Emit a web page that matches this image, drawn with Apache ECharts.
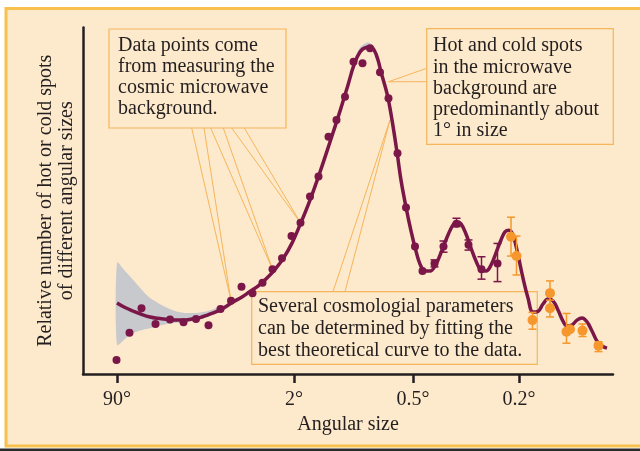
<!DOCTYPE html>
<html>
<head>
<meta charset="utf-8">
<script src="https://cdn.jsdelivr.net/npm/echarts@6/dist/echarts.min.js"></script>
<style>
  html, body { margin: 0; padding: 0; background: #ffffff; }
  #chart { width: 640px; height: 451px; }
</style>
</head>
<body>
<div id="chart"></div>
<script>
// Horizontal axis: position units, with labelled angular sizes at these positions
const tickPositions = [6.8, 42.2, 66.0, 87.2];
const tickLabels = ['90°', '2°', '0.5°', '0.2°'];

// Best theoretical curve
const curveX = [6.8, 8.4, 10.0, 11.8, 13.4, 15.0, 16.8, 18.4, 20.0, 21.8, 23.4, 25.0, 26.8, 28.4, 30.0,
  31.8, 33.4, 35.0, 36.8, 38.4, 40.0, 41.8, 43.4, 45.4, 47.4, 49.4, 51.4, 53.0, 54.2, 55.4, 56.6, 57.4,
  58.2, 59.0, 59.6, 60.4, 61.0, 61.8, 62.8, 63.6, 64.6, 65.6, 66.6, 67.4, 68.4, 69.4, 70.6, 71.8, 73.0,
  74.0, 74.8, 75.6, 76.6, 77.6, 78.6, 79.6, 80.6, 81.6, 82.6, 83.6, 84.4, 85.2, 86.0, 87.0, 88.0, 89.0,
  90.0, 91.0, 92.0, 93.0, 94.0, 95.0, 96.0, 96.8, 97.8, 98.8, 99.8, 100.8, 101.8, 102.8, 103.8, 104.8];
const curveY = [20.3, 19.0, 18.0, 17.0, 16.3, 15.9, 15.6, 15.4, 15.4, 15.7, 16.1, 16.9, 17.9, 19.1, 20.6,
  22.0, 23.6, 25.1, 27.4, 29.9, 32.9, 37.4, 42.6, 49.7, 57.7, 66.3, 75.1, 82.6, 88.3, 92.0, 93.3, 93.4,
  92.6, 89.7, 86.3, 82.3, 78.9, 72.6, 63.4, 55.4, 47.7, 40.9, 35.1, 31.4, 29.4, 29.4, 31.4, 35.4, 39.7,
  42.6, 43.4, 42.9, 40.0, 36.0, 32.3, 29.7, 29.4, 31.1, 34.6, 38.3, 40.6, 41.1, 39.7, 34.0, 27.4, 21.7,
  17.7, 17.9, 20.0, 21.4, 20.9, 18.3, 15.1, 13.7, 14.0, 15.4, 16.0, 14.9, 12.3, 9.4, 8.0, 7.4];

// Uncertainty band at large angular sizes
const bandX = [6.8, 8.4, 10.0, 11.8, 13.4, 15.0, 16.8, 18.4, 20.0, 21.8, 23.4, 25.0, 26.8, 28.4];
const bandLow = [8.3, 10.0, 11.7, 12.6, 13.1, 13.7, 14.3, 14.6, 14.7, 15.1, 15.6, 16.3, 17.4, 18.9];
const bandHigh = [31.8, 29.4, 26.9, 24.0, 21.7, 20.3, 18.9, 18.0, 17.5, 17.4, 17.6, 18.0, 18.9, 19.7];

// Narrow band around the main peak
const haloX = [53.0, 54.2, 55.4, 56.6, 57.4, 58.2, 59.0];
const haloLow = [82.6, 88.3, 92.0, 93.3, 93.4, 92.6, 89.7];
const haloHigh = [83.4, 89.7, 93.3, 94.6, 94.6, 93.6, 90.2];

// Measurements (maroon)
const pointX = [6.7, 9.3, 11.7, 14.5, 17.4, 20.1, 22.6, 25.1, 27.5, 29.6, 31.7, 33.9, 35.9, 37.9, 39.8,
  41.7, 43.5, 45.4, 47.1, 49.1, 50.7, 52.4, 54.1, 55.9, 57.4, 59.4, 61.1, 62.9, 64.6, 66.4, 67.9, 70.3,
  72.1, 74.7, 77.1, 79.7, 82.9];
const pointY = [4.0, 11.8, 18.8, 14.3, 15.6, 14.8, 15.7, 13.9, 18.6, 20.9, 24.9, 23.1, 26.1, 29.9, 33.1,
  39.4, 43.2, 50.7, 56.4, 67.8, 72.6, 79.2, 89.2, 88.8, 93.1, 86.2, 78.8, 63.1, 47.6, 36.4, 29.4, 31.6,
  36.4, 42.9, 36.9, 29.9, 31.6];
const barX = [70.3, 72.1, 74.7, 77.1, 79.7, 82.9];
const barLow = [30.6, 34.8, 42.1, 35.4, 27.1, 26.4];
const barHigh = [32.6, 38.0, 44.5, 38.3, 33.5, 37.3];

// Measurements at small angular sizes (orange)
const fineX = [85.6, 86.7, 89.9, 93.4, 93.4, 96.7, 97.4, 99.9, 103.1];
const fineY = [39.2, 33.7, 15.4, 23.1, 18.8, 12.1, 12.8, 12.4, 8.1];
const fineBarX = [85.6, 86.7, 89.9, 93.4, 93.4, 96.7, 99.9, 103.1];
const fineBarLow = [33.7, 28.3, 12.8, 19.4, 16.3, 8.8, 10.7, 6.4];
const fineBarHigh = [44.8, 39.4, 17.6, 26.6, 21.1, 17.3, 14.3, 9.2];

const MAROON = '#7b1748';
const ORANGE = '#f5972c';
const BAND = '#c7c9cd';
const INK = '#231f20';
const CALLOUT = '#f6b65c';
const SERIF = '"Liberation Serif", "DejaVu Serif", serif';

const zip = (xs, ys) => xs.map((x, i) => [x, ys[i]]);
const zip3 = (xs, a, b) => xs.map((x, i) => [x, a[i], b[i]]);

function errorBars(color) {
  return function (params, api) {
    const x = api.value(0);
    const lo = api.coord([x, api.value(1)]);
    const hi = api.coord([x, api.value(2)]);
    const w = 4;
    const style = { stroke: color, lineWidth: 1.5 };
    return {
      type: 'group',
      children: [
        { type: 'line', shape: { x1: lo[0], y1: lo[1], x2: hi[0], y2: hi[1] }, style },
        { type: 'line', shape: { x1: lo[0] - w, y1: lo[1], x2: lo[0] + w, y2: lo[1] }, style },
        { type: 'line', shape: { x1: hi[0] - w, y1: hi[1], x2: hi[0] + w, y2: hi[1] }, style }
      ]
    };
  };
}

// One filled region between the low and high edges of a band
function bandSeries(name, xs, lows, highs) {
  return {
    name: name, type: 'custom', silent: true, z: 1,
    encode: { x: 0, y: [1, 2] },
    data: zip3(xs, lows, highs),
    renderItem: function (params, api) {
      if (params.dataIndex !== 0) return null;
      const upper = xs.map((x, i) => api.coord([x, highs[i]]));
      const lower = xs.map((x, i) => api.coord([x, lows[i]])).reverse();
      return {
        type: 'polygon',
        shape: { points: upper.concat(lower), smooth: 0.25 },
        style: { fill: BAND }
      };
    }
  };
}

const chart = echarts.init(document.getElementById('chart'), null, { renderer: 'canvas' });

chart.setOption({
  backgroundColor: '#ffffff',
  animation: false,
  grid: { left: 83, right: 27, top: 27.5, bottom: 77 },
  xAxis: {
    type: 'value', min: 0, max: 106,
    name: 'Angular size', nameLocation: 'middle', nameGap: 39,
    nameTextStyle: { fontFamily: SERIF, fontSize: 20, color: INK },
    splitLine: { show: false },
    axisLine: { lineStyle: { color: INK, width: 2.5 } },
    axisTick: { show: true, customValues: tickPositions, length: 9, inside: false,
      lineStyle: { color: INK, width: 2.5 } },
    axisLabel: {
      customValues: tickPositions, margin: 16,
      fontFamily: SERIF, fontSize: 20, color: INK,
      formatter: (v) => tickLabels[tickPositions.indexOf(v)] || ''
    }
  },
  yAxis: {
    type: 'value', min: 0, max: 99,
    name: 'Relative number of hot or cold spots\nof different angular sizes',
    nameLocation: 'middle', nameRotate: 90, nameGap: 6,
    nameTextStyle: { fontFamily: SERIF, fontSize: 20, color: INK, lineHeight: 21 },
    splitLine: { show: false },
    axisLine: { show: true, lineStyle: { color: INK, width: 2.5 } },
    axisTick: { show: false },
    axisLabel: { show: false }
  },
  series: [
    bandSeries('band', bandX, bandLow, bandHigh),
    bandSeries('halo', haloX, haloLow, haloHigh),
    {
      name: 'theory', type: 'line', smooth: 0.4, symbol: 'none', silent: true,
      lineStyle: { color: MAROON, width: 3.5 }, data: zip(curveX, curveY), z: 3
    },
    {
      name: 'errors', type: 'custom', renderItem: errorBars(MAROON),
      encode: { x: 0, y: [1, 2] }, data: zip3(barX, barLow, barHigh), z: 4
    },
    {
      name: 'fineErrors', type: 'custom', renderItem: errorBars(ORANGE),
      encode: { x: 0, y: [1, 2] }, data: zip3(fineBarX, fineBarLow, fineBarHigh), z: 4
    },
    {
      name: 'measured', type: 'scatter', symbolSize: 8,
      itemStyle: { color: MAROON, opacity: 1 }, data: zip(pointX, pointY), z: 5
    },
    {
      name: 'fine', type: 'scatter', symbolSize: 10,
      itemStyle: { color: ORANGE, opacity: 1 }, data: zip(fineX, fineY), z: 5
    }
  ]
});

// Annotation boxes with callout wedges pointing at the data
const px = (x, y) => chart.convertToPixel({ gridIndex: 0 }, [x, y]);

function wedge(a, target, b) {
  return {
    type: 'polyline', silent: true, z: 2,
    shape: { points: [a, target, b] },
    style: { stroke: CALLOUT, lineWidth: 1, fill: null }
  };
}
function box(x, y, w, h, text, tx, ty, lh) {
  return [
    {
      type: 'rect', silent: true, z: 2,
      shape: { x: x, y: y, width: w, height: h },
      style: { fill: '#fde9cb', stroke: CALLOUT, lineWidth: 1.2 }
    },
    {
      type: 'text', silent: true, z: 3,
      style: { text: text, x: tx, y: ty, font: '20px ' + SERIF, fill: INK,
        lineHeight: lh, verticalAlign: 'top', align: 'left' }
    }
  ];
}

const tA = px(29.6, 20.9), tB = px(37.9, 29.9), tC = px(43.5, 43.2);
const tPeak = px(61.1, 83.5), tFit = px(61.4, 72.6);

chart.setOption({
  graphic: [
    // page frame
    {
      type: 'rect', silent: true, z: -10,
      shape: { x: 6, y: 8.5, width: 650, height: 437.5 },
      style: { fill: '#fde9cb', stroke: '#f8c04c', lineWidth: 3 }
    },
    {
      type: 'rect', silent: true, z: -10,
      shape: { x: 0, y: 448.5, width: 640, height: 3 },
      style: { fill: '#2a2a2a' }
    },
    wedge([191.7, 128], tA, [204, 128]),
    wedge([210.7, 128], tB, [223.3, 128]),
    wedge([231.7, 128], tC, [244.3, 128]),
    wedge([426.7, 68.3], tPeak, [426.7, 81.7]),
    wedge([333, 291.7], tFit, [345, 291.7]),
    ...box(109, 29, 177, 99,
      'Data points come\nfrom measuring the\ncosmic microwave\nbackground.', 118, 35.5, 21),
    ...box(426.7, 28.7, 186.6, 115.6,
      'Hot and cold spots\nin the microwave\nbackground are\npredominantly about\n1° in size', 433, 35.5, 21.2),
    ...box(251.7, 291.7, 285.6, 72.6,
      'Several cosmologial parameters\ncan be determined by fitting the\nbest theoretical curve to the data.', 258, 295.7, 22)
  ]
});
</script>
</body>
</html>
